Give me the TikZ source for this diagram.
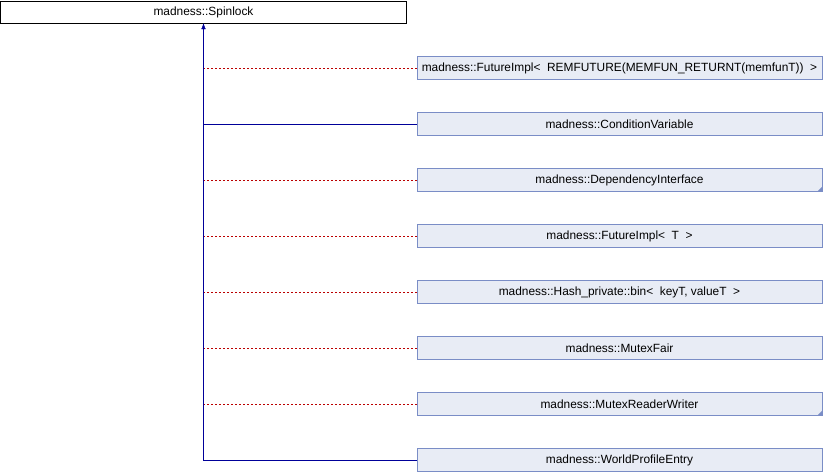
\documentclass[tikz,border=0pt]{standalone}
\usepackage{fontspec}
\setmainfont{Liberation Sans}
\usetikzlibrary{arrows.meta}
\definecolor{boxfill}{HTML}{E8ECF5}
\definecolor{boxline}{HTML}{7A8DC6}
\definecolor{publine}{HTML}{000099}
\definecolor{privline}{HTML}{BB0000}

\begin{document}
\begin{tikzpicture}[x=1pt, y=-1pt,
    font=\fontsize{11.9}{13}\selectfont,
    base/.style={draw=black, fill=white, minimum width=406pt, minimum height=22pt, inner sep=0pt},
    derived/.style={draw=boxline, fill=boxfill, minimum width=405pt, minimum height=23pt, inner sep=0pt},
    pub/.style={draw=publine, thin},
    priv/.style={draw=privline, thin, dash pattern=on 2pt off 2pt}]
      \useasboundingbox (0,0) rectangle (824,472);

      % Draw the base class
      \node[base] (spinlock) at (203.5,12) {madness::Spinlock};

      % Draw the derived classes
      \node[derived] (futmem) at (619.5,68) {madness::FutureImpl<\ \ REMFUTURE(MEMFUN\_RETURNT(memfunT))\ \ >};
      \node[derived] (condvar) at (619.5,124) {madness::ConditionVariable};
      \node[derived] (depint) at (619.5,180) {madness::DependencyInterface};
      \node[derived] (futimpl) at (619.5,236) {madness::FutureImpl<\ \ T\ \ >};
      \node[derived] (hashbin) at (619.5,292) {madness::Hash\_private::bin<\ \ keyT,\ valueT\ \ >};
      \node[derived] (mutexfair) at (619.5,348) {madness::MutexFair};
      \node[derived] (mutexrw) at (619.5,404) {madness::MutexReaderWriter};
      \node[derived] (worldprof) at (619.5,460) {madness::WorldProfileEntry};

      % Mark the classes that have more derived classes
      \fill[boxline] (depint.south east) -- ++(-5pt,0pt) -- ++(5pt,5pt) -- cycle;
      \fill[boxline] (mutexrw.south east) -- ++(-5pt,0pt) -- ++(5pt,5pt) -- cycle;

      % Add the inheritance lines
      \draw[pub, -{Latex[length=6pt,width=4.5pt]}] (worldprof.west) -| (spinlock.south);
      \draw[pub] (condvar.west) -- (condvar.west -| spinlock.south);
      \draw[priv] (futmem.west) -- (futmem.west -| spinlock.south);
      \draw[priv] (depint.west) -- (depint.west -| spinlock.south);
      \draw[priv] (futimpl.west) -- (futimpl.west -| spinlock.south);
      \draw[priv] (hashbin.west) -- (hashbin.west -| spinlock.south);
      \draw[priv] (mutexfair.west) -- (mutexfair.west -| spinlock.south);
      \draw[priv] (mutexrw.west) -- (mutexrw.west -| spinlock.south);
\end{tikzpicture}
\end{document}
